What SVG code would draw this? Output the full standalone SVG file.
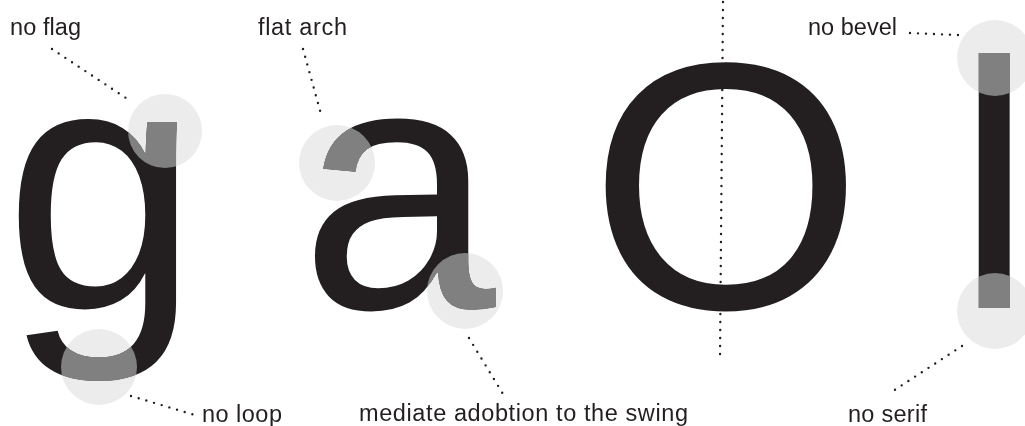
<svg xmlns="http://www.w3.org/2000/svg" width="1025" height="426" viewBox="0 0 1025 426">
<style>
.lbl{font-family:"Liberation Sans",Arial,sans-serif;font-size:23.5px;fill:#231f20}
.big{font-family:"Liberation Sans",Arial,sans-serif;font-size:352px;fill:#231f20}
.ring{fill:#ececec}
.hl{fill:#808080;mix-blend-mode:lighten}
.dot{stroke:#231f20;stroke-width:2.4;stroke-linecap:round;stroke-dasharray:0 8;fill:none}
</style>
<rect width="1025" height="426" fill="#ffffff"/>
<g id="connectors">
<line class="dot" x1="52" y1="49" x2="126" y2="98"/>
<line class="dot" x1="131" y1="396" x2="195" y2="415"/>
<line class="dot" x1="303" y1="49" x2="321" y2="114"/>
<line class="dot" x1="469" y1="338" x2="503" y2="394"/>
<line class="dot" x1="723" y1="2" x2="720" y2="358"/>
<line class="dot" x1="910" y1="33" x2="958" y2="35"/>
<line class="dot" x1="962" y1="346" x2="893" y2="391"/>
</g>
<g id="glyph-g">
<circle class="ring" cx="165" cy="131" r="37"/>
<circle class="ring" cx="99" cy="367" r="38"/>
<text class="big" x="4" y="308">g</text>
<circle class="hl" cx="165" cy="131" r="37"/>
<circle class="hl" cx="99" cy="367" r="38"/>
</g>
<g id="glyph-a">
<circle class="ring" cx="337" cy="163" r="38"/>
<circle class="ring" cx="465" cy="291" r="38"/>
<text class="big" x="300" y="308">a</text>
<circle class="hl" cx="337" cy="163" r="38"/>
<circle class="hl" cx="465" cy="291" r="38"/>
</g>
<g id="glyph-O">
<text class="big" x="589" y="308">O</text>
</g>
<g id="glyph-l">
<circle class="ring" cx="995" cy="58" r="38"/>
<circle class="ring" cx="995" cy="311" r="38"/>
<text class="big" x="955" y="308">l</text>
<circle class="hl" cx="995" cy="58" r="38"/>
<circle class="hl" cx="995" cy="311" r="38"/>
</g>
<g id="labels">
<text class="lbl" x="10" y="35" textLength="71" lengthAdjust="spacing">no flag</text>
<text class="lbl" x="258" y="35" textLength="89" lengthAdjust="spacing">flat arch</text>
<text class="lbl" x="202" y="422" textLength="80" lengthAdjust="spacing">no loop</text>
<text class="lbl" x="359" y="421" textLength="329" lengthAdjust="spacing">mediate adobtion to the swing</text>
<text class="lbl" x="808" y="35" textLength="89" lengthAdjust="spacing">no bevel</text>
<text class="lbl" x="848" y="422" textLength="79" lengthAdjust="spacing">no serif</text>
</g>
</svg>
